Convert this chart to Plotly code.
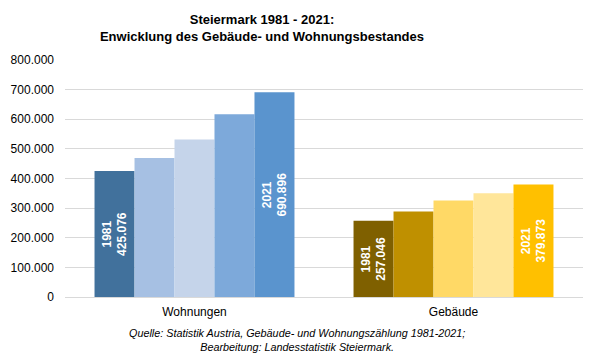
import plotly.graph_objects as go

categories = ["Wohnungen", "Gebäude"]
years = ["1981", "1991", "2001", "2011", "2021"]
wohnungen = [425076, 469000, 532000, 617000, 690896]
gebaeude = [257046, 289000, 326000, 350000, 379873]
colors_woh = ["#41719C", "#A6C0E3", "#C5D4EA", "#7DA9DA", "#5A94CE"]
colors_geb = ["#7F6000", "#BF9000", "#FFD966", "#FFE69A", "#FFC000"]
labeled_years = ["1981", "2021"]
tick_vals = [0, 100000, 200000, 300000, 400000, 500000, 600000, 700000, 800000]
tick_text = ["0", "100.000", "200.000", "300.000", "400.000", "500.000", "600.000", "700.000", "800.000"]

def fmt(v):
    return f"{v:,}".replace(",", ".")

fig = go.Figure()
for i, yr in enumerate(years):
    vals = [wohnungen[i], gebaeude[i]]
    txt = [f"{yr}<br>{fmt(v)}" if yr in labeled_years else "" for v in vals]
    fig.add_trace(go.Bar(
        x=categories, y=vals, name=yr,
        marker=dict(color=[colors_woh[i], colors_geb[i]], line=dict(width=0)),
        text=txt, textposition="inside", textangle=-90,
        insidetextanchor="middle",
        textfont=dict(family="Arial, Liberation Sans", size=12, color="white", weight="bold"),
        hoverinfo="skip",
    ))

fig.update_layout(
    width=598, height=364,
    barmode="group", bargap=0.228, bargroupgap=0,
    showlegend=False,
    paper_bgcolor="white", plot_bgcolor="white",
    margin=dict(l=65, r=15, t=60, b=67),
    font=dict(family="Arial, Liberation Sans", size=12, color="#000000"),
    separators=",.",
    title=dict(
        text="<b>Steiermark 1981 - 2021:<br>Enwicklung des Gebäude- und Wohnungsbestandes</b>",
        x=262/598, xanchor="center", y=1 - 24/364, yanchor="middle",
        font=dict(size=13, color="#000000"),
    ),
    xaxis=dict(showgrid=False, showline=False, ticks="", tickfont=dict(size=12),
               range=[-0.5, 1.5], ticklabelstandoff=6),
    yaxis=dict(range=[0, 800000], tickvals=tick_vals, ticktext=tick_text,
               showgrid=True, gridcolor="#D9D9D9", gridwidth=1,
               zeroline=True, zerolinecolor="#D9D9D9", zerolinewidth=1,
               showline=False, ticks="", ticklabelstandoff=10, tickfont=dict(size=12)),
)

fig.add_annotation(
    text="<i>Quelle: Statistik Austria, Gebäude- und Wohnungszählung 1981-2021;<br>Bearbeitung: Landesstatistik Steiermark.</i>",
    xref="paper", yref="paper", x=(297-65)/518, y=-(340-297)/237,
    xanchor="center", yanchor="middle", showarrow=False,
    font=dict(size=10.8, color="#000000"), align="center",
)

fig.write_html("out.html", config={"displayModeBar": False},
               post_script="document.body.style.margin='0';")
